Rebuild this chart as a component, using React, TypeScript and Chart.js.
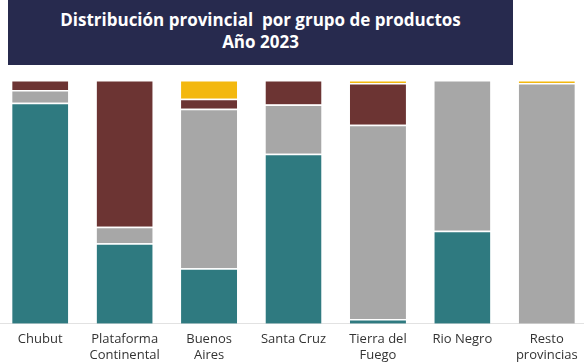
import React, { useEffect, useRef } from "react";
import { Chart, registerables } from "chart.js";

Chart.register(...registerables);

const categories: (string | string[])[] = [
  "Chubut",
  ["Plataforma", "Continental"],
  ["Buenos", "Aires"],
  "Santa Cruz",
  ["Tierra del", "Fuego"],
  "Rio Negro",
  ["Resto", "provincias"],
];

const tealValues = [90.7, 33.0, 22.8, 69.7, 2.0, 38.2, 0];
const grayValues = [5.2, 6.8, 65.4, 20.3, 79.6, 61.8, 98.8];
const brownValues = [4.1, 60.2, 4.1, 10.0, 17.2, 0, 0];
const yellowValues = [0, 0, 7.7, 0, 1.2, 0, 1.2];

const titleLines = ["Distribución provincial  por grupo de productos", "Año 2023"];

const COLORS = {
  teal: "#2f7a80",
  gray: "#a7a7a7",
  brown: "#6c3433",
  yellow: "#f3b80f",
};

export default function App() {
  const canvasRef = useRef<HTMLCanvasElement | null>(null);

  useEffect(() => {
    if (!canvasRef.current) return;
    const mk = (label: string, data: number[], color: string) => ({
      label,
      data,
      backgroundColor: color,
      borderColor: "#ffffff",
      borderWidth: { top: 1.5, bottom: 0, left: 0, right: 0 },
      borderSkipped: false,
      barPercentage: 0.8,
      categoryPercentage: 0.83,
    });
    const chart = new Chart(canvasRef.current, {
      type: "bar",
      data: {
        labels: categories,
        datasets: [
          mk("A", tealValues, COLORS.teal),
          mk("B", grayValues, COLORS.gray),
          mk("C", brownValues, COLORS.brown),
          mk("D", yellowValues, COLORS.yellow),
        ],
      },
      options: {
        animation: false,
        responsive: false,
        maintainAspectRatio: false,
        layout: { padding: { top: 15, bottom: 0, left: 0, right: 0 } },
        plugins: {
          legend: { display: false },
          title: { display: false },
          tooltip: { enabled: false },
        },
        scales: {
          x: {
            stacked: true,
            grid: { display: false },
            border: { display: true, color: "#e2e2e2", width: 1 },
            ticks: {
              autoSkip: false,
              maxRotation: 0,
              minRotation: 0,
              padding: 0,
              color: "#333333",
              font: { family: "'Open Sans', sans-serif", size: 13, lineHeight: 1.2 },
            },
          },
          y: {
            stacked: true,
            display: false,
            min: 0,
            max: 100,
          },
        },
      },
    });
    return () => chart.destroy();
  }, []);

  return (
    <div style={{ position: "fixed", left: 0, top: 0, width: 584, height: 364, background: "#fff", overflow: "hidden" }}>
      <div
        style={{
          position: "absolute",
          left: 8,
          top: 0,
          width: 505,
          height: 65,
          background: "#272a4e",
          color: "#fff",
          fontFamily: "'Open Sans', sans-serif",
          fontWeight: 700,
          fontSize: 17,
          lineHeight: "22px",
          textAlign: "center",
          paddingTop: 9,
          boxSizing: "border-box",
        }}
      >
        {titleLines.map((t, i) => (
          <div key={i} style={{ whiteSpace: "pre" }}>{t}</div>
        ))}
      </div>
      <canvas
        ref={canvasRef}
        width={591}
        height={298}
        style={{ position: "absolute", left: -2, top: 65, width: 591, height: 298 }}
      />
    </div>
  );
}
